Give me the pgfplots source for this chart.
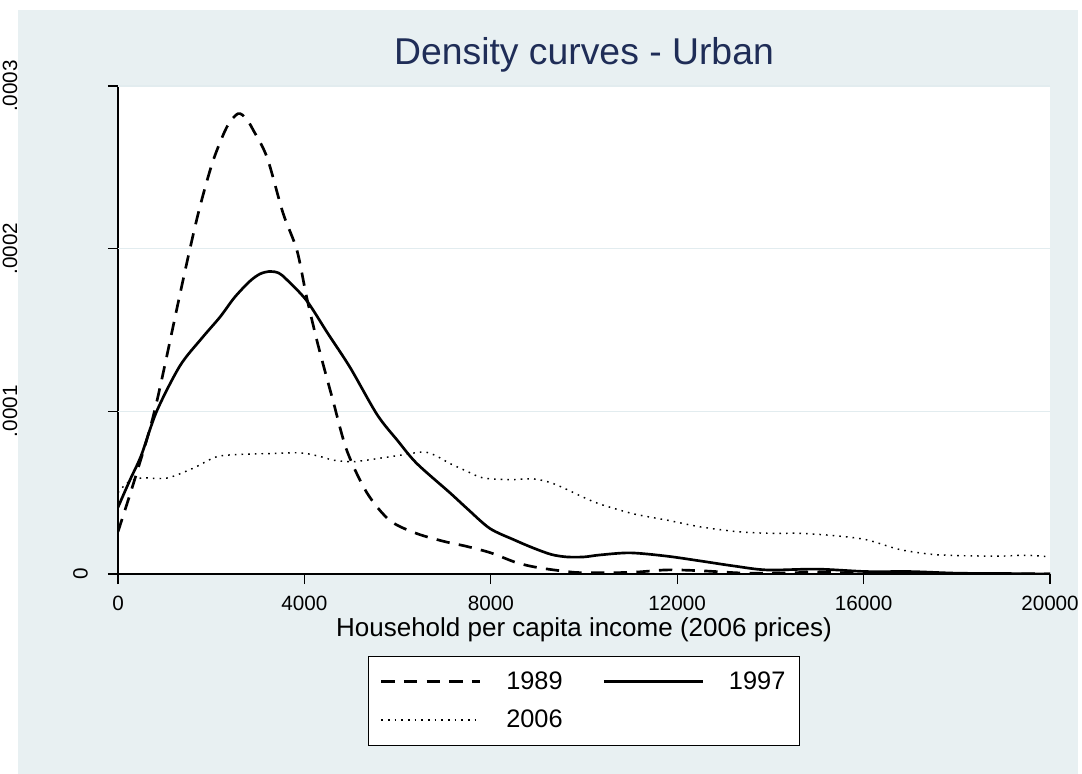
\documentclass[border=0pt]{standalone}
\usepackage{fontspec}
\setmainfont{Liberation Sans}
\usepackage{pgfplots}
\pgfplotsset{compat=1.18}
\definecolor{bgcol}{RGB}{232,240,242}
\definecolor{titlecol}{RGB}{31,45,87}
\definecolor{gridcol}{RGB}{226,236,239}
\begin{document}
\begin{tikzpicture}[x=1pt,y=1pt]
\fill[white] (-88.5,-150) rectangle (723,430.5);
\fill[bgcol] (-75,-150) rectangle (720,423);
\begin{axis}[
  at={(0,0)}, anchor=south west,
  scale only axis, width=699pt, height=366pt,
  xmin=0, xmax=20000, ymin=0, ymax=0.0003,
  axis lines*=left,
  axis line style={line width=1pt, -},
  axis background/.style={fill=white},
  xtick={0,4000,8000,12000,16000,20000},
  scaled x ticks=false, scaled y ticks=false,
  /pgf/number format/fixed, /pgf/number format/1000 sep={},
  /pgf/number format/assume math mode=true,
  ytick={0}, yticklabels={0},
  extra y ticks={0.0001,0.0002,0.0003},
  extra y tick labels={.0001,.0002,.0003},
  extra y tick style={grid=major, yticklabel style={yshift=52.9pt}},
  major grid style={gridcol, line width=1.2pt},
  tick align=outside, major tick length=7.5pt,
  tick style={line width=1pt, black},
  ticklabel style={font=\fontsize{15.5pt}{17pt}\selectfont},
  xticklabel style={anchor=base, yshift=-19.5pt},
  yticklabel style={xshift=-20.6pt, rotate=90, anchor=center},
  title={Density curves - Urban},
  title style={at={(0.5,1)}, anchor=base, yshift=9.75pt, font=\fontsize{28pt}{30pt}\selectfont, text=titlecol},
  xlabel={Household per capita income (2006 prices)},
  xlabel style={at={(axis description cs:0.5,0)}, anchor=base, yshift=-46.5pt, font=\fontsize{19.5pt}{22pt}\selectfont},
  legend columns=2,
  legend cell align=left,
  legend image code/.code={\draw[#1] (0pt,0pt) -- (74pt,0pt);},
  legend style={at={(0.5,-0.168)}, anchor=north, draw=black, fill=white,
    font=\fontsize{19pt}{22pt}\selectfont, inner xsep=8.5pt, inner ysep=9.5pt, row sep=10pt,
    nodes={inner sep=2pt, text depth=0.15em},
    /tikz/every odd column/.append style={column sep=16.75pt},
    /tikz/every even column/.append style={column sep=28pt}},
]
\addplot[black, line width=2pt, dash pattern=on 10pt off 7pt, smooth, tension=0.5] table {
x y
0 2.6e-5
400 6.2e-5
800 1.02e-4
1330 1.72e-4
1545 2.0e-4
1760 2.26e-4
2040 2.54e-4
2340 2.75e-4
2575 2.83e-4
2750 2.80e-4
2900 2.73e-4
3200 2.56e-4
3540 2.22e-4
3840 1.99e-4
4050 1.70e-4
4300 1.40e-4
4610 1.07e-4
4910 7.6e-5
5340 5.0e-5
5830 3.3e-5
6400 2.5e-5
7000 2.0e-5
7480 1.7e-5
8000 1.3e-5
8550 7e-6
9000 4e-6
9630 1.5e-6
10000 8e-7
11000 1.0e-6
11770 2.5e-6
12500 2.0e-6
13500 5e-7
14500 8e-7
15000 1.2e-6
15500 8e-7
16500 2e-7
17500 1e-7
20000 0
};
\addlegendentry{1989}
\addplot[black, line width=2pt, smooth, tension=0.5] table {
x y
0 4.1e-5
260 5.8e-5
500 7.3e-5
830 1.0e-4
1330 1.28e-4
1800 1.45e-4
2190 1.58e-4
2500 1.70e-4
2830 1.80e-4
3050 1.845e-4
3260 1.86e-4
3450 1.85e-4
3620 1.81e-4
4050 1.68e-4
4500 1.48e-4
4980 1.27e-4
5560 9.8e-5
6000 8.2e-5
6410 6.8e-5
7120 5.0e-5
7500 4.0e-5
7980 2.8e-5
8500 2.1e-5
8910 1.6e-5
9300 1.2e-5
9630 1.05e-5
10000 1.05e-5
10340 1.17e-5
10990 1.3e-5
11770 1.1e-5
12500 8e-6
13200 5e-6
13920 2.5e-6
15000 3e-6
16070 1.5e-6
17000 1.5e-6
18000 5e-7
19000 3e-7
20000 0
};
\addlegendentry{1997}
\addplot[black, line width=1.1pt, dash pattern=on 1.2pt off 3.8pt, smooth, tension=0.5] table {
x y
0 5.0e-5
200 5.6e-5
500 5.9e-5
1050 5.9e-5
1610 6.5e-5
2110 7.2e-5
2600 7.35e-5
3200 7.4e-5
3900 7.45e-5
4300 7.25e-5
4620 7.0e-5
5000 6.9e-5
5340 7.0e-5
6050 7.3e-5
6550 7.5e-5
6800 7.3e-5
7120 6.8e-5
7500 6.3e-5
7840 5.9e-5
8400 5.8e-5
8910 5.85e-5
9300 5.6e-5
9630 5.2e-5
10000 4.7e-5
10340 4.3e-5
11060 3.7e-5
11800 3.3e-5
12490 2.9e-5
13300 2.6e-5
14000 2.5e-5
14640 2.5e-5
15400 2.35e-5
16070 2.1e-5
16780 1.5e-5
17500 1.2e-5
18200 1.12e-5
18930 1.1e-5
19500 1.15e-5
20000 1.05e-5
};
\addlegendentry{2006}
\end{axis}
\pgfresetboundingbox
\path[use as bounding box] (-88.5,-150) rectangle (723,430.5);
\end{tikzpicture}
\end{document}
